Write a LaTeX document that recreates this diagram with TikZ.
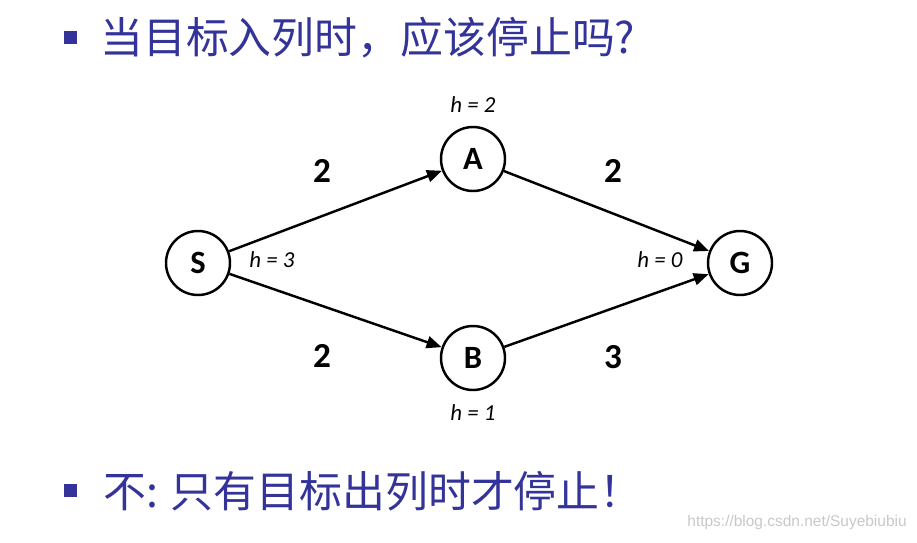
\documentclass[tikz,border=0pt]{standalone}
\usepackage{fontspec}
\setsansfont{Carlito}
\newfontfamily\cjk{Noto Sans CJK SC}
\newfontfamily\wmfont{Liberation Sans}
\usetikzlibrary{arrows.meta,positioning}
\definecolor{slideBlue}{HTML}{333399}
\definecolor{markGray}{HTML}{C8C8C8}

\begin{document}
\begin{tikzpicture}[
  >={Triangle[length=0.3cm,width=0.24cm]},
  state/.style={
    circle,
    draw,
    line width=1.4pt,
    minimum size=1.28cm,
    inner sep=0pt,
    font=\sffamily\bfseries\fontsize{18.5}{20}\selectfont
  },
  edge/.style={->,line width=1.4pt},
  weight/.style={font=\sffamily\bfseries\fontsize{20}{22}\selectfont},
  heur/.style={font=\sffamily\itshape\fontsize{13}{15}\selectfont},
  bulletbox/.style={fill=slideBlue,minimum size=0.26cm,inner sep=0pt},
  slideline/.style={
    anchor=west,
    inner sep=0pt,
    text=slideBlue,
    font=\cjk\fontsize{24.4}{26}\selectfont
  }
]
  \useasboundingbox (0,0) rectangle (18.34,10.84);

  % heading
  \node[bulletbox] (b1) at (1.41,10.09) {};
  \node[slideline] (q) at (2.0,10.08) {当目标入列时，应该停止吗?};

  % graph
  \node[state] (S) at (3.96,5.58) {S};
  \node[state] (A) at (9.46,7.66) {A};
  \node[state] (B) at (9.46,3.68) {B};
  \node[state] (G) at (14.8,5.58) {G};

  \node[heur] (hA) at (9.46,8.74) {h = 2};
  \node[heur] (hS) at (5.44,5.64) {h = 3};
  \node[heur] (hG) at (13.2,5.64) {h = 0};
  \node[heur] (hB) at (9.46,2.58) {h = 1};

  \draw[edge] (S)--(A)
    node[weight,midway,xshift=-0.27cm,yshift=0.8cm] (wSA) {2};
  \draw[edge] (S)--(B)
    node[weight,midway,xshift=-0.27cm,yshift=-0.91cm] (wSB) {2};
  \draw[edge] (A)--(G)
    node[weight,midway,xshift=0.13cm,yshift=0.8cm] (wAG) {2};
  \draw[edge] (B)--(G)
    node[weight,midway,xshift=0.13cm,yshift=-0.93cm] (wBG) {3};

  % answer
  \node[bulletbox] (b2) at (1.41,1.03) {};
  \node[slideline] (ans) at (2.06,1.02) {不: 只有目标出列时才停止！};

  \node[anchor=east,text=markGray,inner sep=0pt,
    font=\wmfont\fontsize{8.8}{10}\selectfont] (mark) at (18.14,0.4)
    {https://blog.csdn.net/Suyebiubiu};
\end{tikzpicture}
\end{document}
